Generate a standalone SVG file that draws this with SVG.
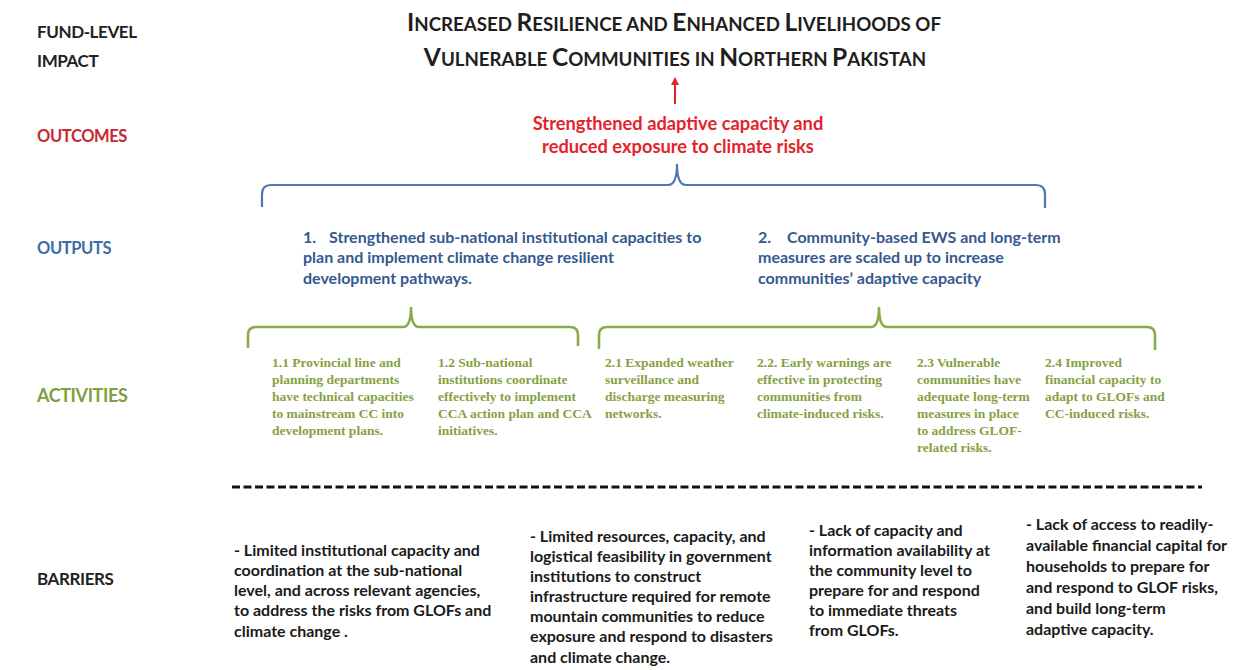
<svg xmlns="http://www.w3.org/2000/svg" width="1239" height="670" viewBox="0 0 1239 670">
  <style>
    .lbl { font-family: Lato, "Liberation Sans", sans-serif; font-weight: bold; letter-spacing: -0.4px; }
    .title { font-family: Lato, "Liberation Sans", sans-serif; font-weight: bold; fill: #1e1e1e; }
    .big { font-size: 24.5px; }
    .sm { font-size: 18.7px; }
    .outc { font-family: Lato, "Liberation Sans", sans-serif; font-weight: bold; font-size: 18.3px; fill: #e3232a; }
    .outp { font-family: Lato, "Liberation Sans", sans-serif; font-weight: bold; font-size: 16px; fill: #35588f; }
    .act { font-family: "Liberation Serif", serif; font-weight: bold; font-size: 13.5px; fill: #86a143; }
    .bar { font-family: Lato, "Liberation Sans", sans-serif; font-weight: bold; font-size: 16px; fill: #1a1a1a; }
    .brace-b { fill: none; stroke: #4f78b0; stroke-width: 2.2; }
    .brace-g { fill: none; stroke: #8aab4a; stroke-width: 2.6; }
  </style>
  <defs>
    <marker id="arrowRed" markerWidth="8" markerHeight="8" refX="4" refY="4" orient="auto" markerUnits="userSpaceOnUse">
      <path d="M0,0 L8,4 L0,8 Z" fill="#e3232a"/>
    </marker>
  </defs>
  <rect width="1239" height="670" fill="#ffffff"/>

  <!-- row labels -->
  <g id="row-labels" class="lbl">
    <text x="37" y="38" font-size="17" fill="#222">FUND-LEVEL</text>
    <text x="37" y="67" font-size="17" fill="#222">IMPACT</text>
    <text x="37" y="142" font-size="16.5" fill="#c7282f">OUTCOMES</text>
    <text x="37" y="254" font-size="16.5" fill="#3e6aa6">OUTPUTS</text>
    <text x="37" y="402" font-size="18" fill="#7f9e3e">ACTIVITIES</text>
    <text x="37" y="585" font-size="17" fill="#222">BARRIERS</text>
  </g>

  <!-- fund-level impact -->
  <g id="impact" class="title" text-anchor="middle">
    <text x="674" y="31"><tspan class="big">I</tspan><tspan class="sm">NCREASED </tspan><tspan class="big">R</tspan><tspan class="sm">ESILIENCE AND </tspan><tspan class="big">E</tspan><tspan class="sm">NHANCED </tspan><tspan class="big">L</tspan><tspan class="sm">IVELIHOODS OF</tspan></text>
    <text x="675" y="66"><tspan class="big">V</tspan><tspan class="sm">ULNERABLE </tspan><tspan class="big">C</tspan><tspan class="sm">OMMUNITIES IN </tspan><tspan class="big">N</tspan><tspan class="sm">ORTHERN </tspan><tspan class="big">P</tspan><tspan class="sm">AKISTAN</tspan></text>
  </g>

  <!-- outcome -->
  <g id="outcome" class="outc" text-anchor="middle">
    <text x="678" y="130">Strengthened adaptive capacity and</text>
    <text x="678" y="153">reduced exposure to climate risks</text>
  </g>

  <!-- output 1 -->
  <g id="output-1" class="outp">
    <text x="303" y="243">1.</text>
    <text x="329" y="243">Strengthened sub-national institutional capacities to</text>
    <text x="303" y="263">plan and implement climate change resilient</text>
    <text x="303" y="284">development pathways.</text>
  </g>

  <!-- output 2 -->
  <g id="output-2" class="outp">
    <text x="758" y="243">2.</text>
    <text x="787" y="243">Community-based EWS and long-term</text>
    <text x="758" y="263">measures are scaled up to increase</text>
    <text x="758" y="284">communities’ adaptive capacity</text>
  </g>

  <!-- activities -->
  <g id="activity-1-1" class="act">
    <text x="272" y="367">1.1  Provincial line and</text>
    <text x="272" y="384">planning departments</text>
    <text x="272" y="401">have technical capacities</text>
    <text x="272" y="418">to mainstream CC into</text>
    <text x="272" y="435">development plans.</text>
  </g>
  <g id="activity-1-2" class="act">
    <text x="438" y="367">1.2  Sub-national</text>
    <text x="438" y="384">institutions coordinate</text>
    <text x="438" y="401">effectively to implement</text>
    <text x="438" y="418">CCA action plan and CCA</text>
    <text x="438" y="435">initiatives.</text>
  </g>
  <g id="activity-2-1" class="act">
    <text x="605" y="367">2.1  Expanded weather</text>
    <text x="605" y="384">surveillance and</text>
    <text x="605" y="401">discharge measuring</text>
    <text x="605" y="418">networks.</text>
  </g>
  <g id="activity-2-2" class="act">
    <text x="757" y="367">2.2.  Early warnings are</text>
    <text x="757" y="384">effective in protecting</text>
    <text x="757" y="401">communities from</text>
    <text x="757" y="418">climate-induced risks.</text>
  </g>
  <g id="activity-2-3" class="act">
    <text x="917" y="367">2.3  Vulnerable</text>
    <text x="917" y="384">communities have</text>
    <text x="917" y="401">adequate long-term</text>
    <text x="917" y="418">measures in place</text>
    <text x="917" y="435">to address GLOF-</text>
    <text x="917" y="452">related risks.</text>
  </g>
  <g id="activity-2-4" class="act">
    <text x="1045" y="367">2.4  Improved</text>
    <text x="1045" y="384">financial capacity to</text>
    <text x="1045" y="401">adapt to GLOFs and</text>
    <text x="1045" y="418">CC-induced risks.</text>
  </g>

  <!-- barriers -->
  <g id="barrier-1" class="bar">
    <text x="234" y="556">- Limited institutional capacity and</text>
    <text x="234" y="576">coordination at the sub-national</text>
    <text x="234" y="596">level, and across relevant agencies,</text>
    <text x="234" y="616">to address the risks from GLOFs and</text>
    <text x="234" y="637">climate change .</text>
  </g>
  <g id="barrier-2" class="bar">
    <text x="530" y="542">- Limited resources, capacity, and</text>
    <text x="530" y="562">logistical feasibility in government</text>
    <text x="530" y="582">institutions to construct</text>
    <text x="530" y="602">infrastructure required for remote</text>
    <text x="530" y="622">mountain communities to reduce</text>
    <text x="530" y="642">exposure and respond to disasters</text>
    <text x="530" y="663">and climate change.</text>
  </g>
  <g id="barrier-3" class="bar">
    <text x="809" y="536">- Lack of capacity and</text>
    <text x="809" y="556">information availability at</text>
    <text x="809" y="576">the community level to</text>
    <text x="809" y="596">prepare for and respond</text>
    <text x="809" y="616">to immediate threats</text>
    <text x="809" y="636">from GLOFs.</text>
  </g>
  <g id="barrier-4" class="bar">
    <text x="1026" y="530">- Lack of access to readily-</text>
    <text x="1026" y="551">available financial capital for</text>
    <text x="1026" y="572">households to prepare for</text>
    <text x="1026" y="593">and respond to GLOF risks,</text>
    <text x="1026" y="614">and build long-term</text>
    <text x="1026" y="635">adaptive capacity.</text>
  </g>

  <!-- connectors: arrow, braces, separator -->
  <g id="connectors">
    <line x1="675" y1="104" x2="675" y2="81" stroke="#e3232a" stroke-width="2" marker-end="url(#arrowRed)"/>
    <path class="brace-b" d="M262,207 L262,194 Q262,185 271,185 L668,185 Q677,185 677,164 Q677,185 686,185 L1036,185 Q1045,185 1045,194 L1045,208"/>
    <path class="brace-g" d="M248,348 L248,335 Q248,327 256,327 L403,327 Q411,327 411,307 Q411,327 419,327 L570,327 Q578,327 578,335 L578,346"/>
    <path class="brace-g" d="M599,349 L599,335 Q599,327 607,327 L871,327 Q879,327 879,307 Q879,327 887,327 L1147,327 Q1155,327 1155,335 L1155,350"/>
    <line x1="232" y1="487" x2="1202" y2="487" stroke="#111" stroke-width="3" stroke-dasharray="8 3.5"/>
  </g>
</svg>
